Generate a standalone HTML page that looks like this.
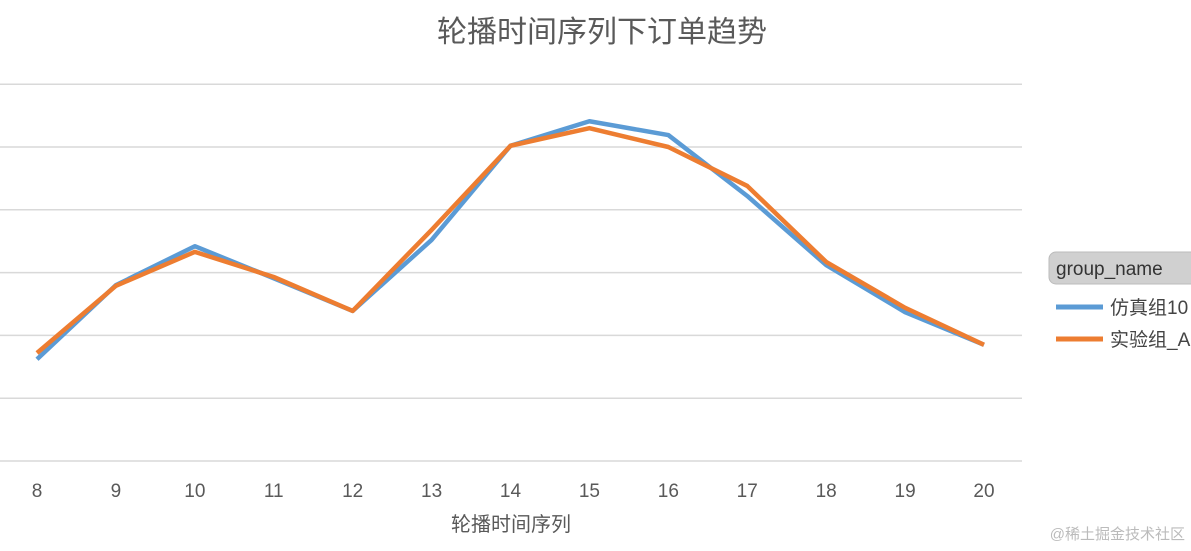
<!DOCTYPE html>
<html><head><meta charset="utf-8"><style>
body{margin:0;background:#fff;overflow:hidden}
svg{display:block;font-family:"Liberation Sans","Noto Sans CJK SC",sans-serif}
</style></head><body>
<svg width="1191" height="551" viewBox="0 0 1191 551">
<text x="602" y="42" text-anchor="middle" font-size="30" fill="#595959">轮播时间序列下订单趋势</text>
<g id="grid"></g>
<g id="xt"></g>
<text x="511" y="531" text-anchor="middle" font-size="20" fill="#595959">轮播时间序列</text>
<g id="series"></g>
<g>
<rect x="1049" y="252" width="160" height="32" rx="7" fill="#d0d0d0" stroke="#bbb"/>
<text x="1056" y="275" font-size="19" fill="#333">group_name</text>
<line x1="1056" y1="307" x2="1103" y2="307" stroke="#5b9bd5" stroke-width="5"/>
<text x="1110" y="314" font-size="19" fill="#444">仿真组10</text>
<line x1="1056" y1="339" x2="1103" y2="339" stroke="#ed7d31" stroke-width="5"/>
<text x="1110" y="346" font-size="19" fill="#444">实验组_A</text>
</g>
<text x="1185" y="539" text-anchor="end" font-size="15" fill="#bbb">@稀土掘金技术社区</text>
</svg>
<script>
const categories=[8,9,10,11,12,13,14,15,16,17,18,19,20];
const simValues=[1.62,2.80,3.42,2.91,2.39,3.52,5.02,5.41,5.19,4.22,3.12,2.37,1.85];
const expValues=[1.72,2.79,3.33,2.93,2.39,3.68,5.02,5.30,5.00,4.38,3.17,2.44,1.85];
const yTicks=[0,1,2,3,4,5,6];
const NS="http://www.w3.org/2000/svg";
const x=i=>37+i*(984-37)/(categories.length-1);
const y=v=>461-v*62.8;
const grid=document.getElementById('grid');
yTicks.forEach(t=>{const l=document.createElementNS(NS,'line');


l.setAttribute('x1',0);l.setAttribute('x2',1022);l.setAttribute('y1',y(t));l.setAttribute('y2',y(t));
l.setAttribute('stroke','#d9d9d9');l.setAttribute('stroke-width','1.5');grid.appendChild(l);});
const xt=document.getElementById('xt');
categories.forEach((c,i)=>{const t=document.createElementNS(NS,'text');


t.setAttribute('x',x(i));t.setAttribute('y',497);t.setAttribute('text-anchor','middle');
t.setAttribute('font-size','19');t.setAttribute('fill','#595959');t.textContent=c;xt.appendChild(t);});
const sg=document.getElementById('series');
[[simValues,'#5b9bd5','series-sim'],[expValues,'#ed7d31','series-exp']].forEach(([vals,col,name])=>{
const p=document.createElementNS(NS,'polyline');


p.setAttribute('points',vals.map((v,i)=>x(i)+','+y(v)).join(' '));
p.setAttribute('fill','none');p.setAttribute('stroke',col);p.setAttribute('stroke-width','4.5');
p.setAttribute('stroke-linejoin','round');sg.appendChild(p);});
</script>
</body></html>
